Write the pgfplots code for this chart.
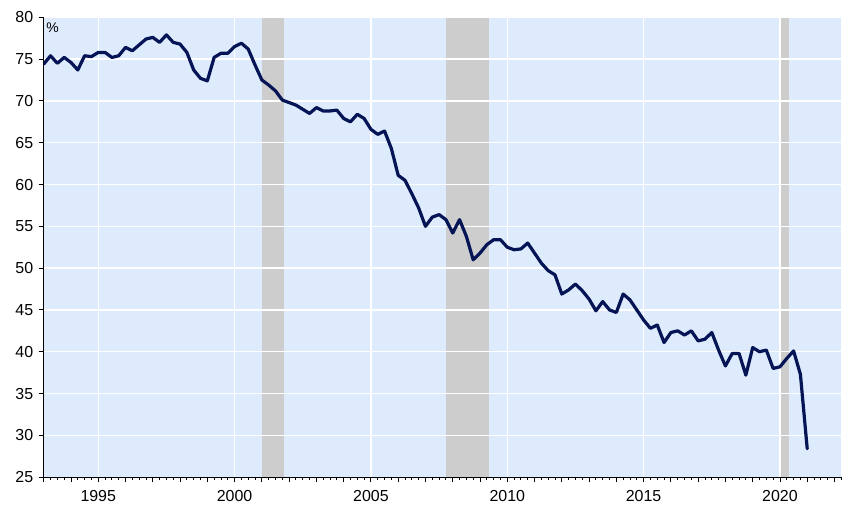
\documentclass[border=0pt]{standalone}
\usepackage{pgfplots}
\pgfplotsset{compat=1.18}
\usepackage{fontspec}
\setmainfont{Liberation Sans}
\definecolor{bgblue}{RGB}{222,235,252}
\definecolor{recgrey}{RGB}{205,205,205}
\definecolor{navy}{RGB}{5,20,85}
\begin{document}
\begin{tikzpicture}
\begin{axis}[
  name=ax,
  set layers=standard,
  scale only axis,
  width=797.3bp, height=459.7bp,
  xmin=1993, xmax=2022.25,
  ymin=25, ymax=80,
  axis x line*=bottom, axis y line*=left,
  axis line style={black, line width=1.2bp},
  xtick={1995,2000,2005,2010,2015,2020},
  xticklabels={1995,2000,2005,2010,2015,2020},
  extra x ticks={1993,1994,1996,1997,1998,1999,2001,2002,2003,2004,2006,2007,2008,2009,2011,2012,2013,2014,2016,2017,2018,2019,2021,2022},
  extra x tick labels={},
  extra x tick style={grid=none},
  minor xtick={1993,1993.25,...,2022.25},
  ytick={25,30,...,80},
  grid=major,
  major grid style={white, line width=1.3bp},
  tick align=outside,
  tick style={black, line width=0.9bp},
  major tick length=5bp,
  minor tick length=3bp,
  xtick pos=bottom, ytick pos=left,
  /pgf/number format/assume math mode=true,
  ticklabel style={font=\fontsize{16}{17}\selectfont},
  xticklabel style={yshift=-4.5bp},
  yticklabel style={xshift=-2bp},
  clip=true,
]
\addplot[fill=bgblue, draw=none, on layer=axis background] coordinates {(1993,25) (1993,80) (2022.25,80) (2022.25,25)} -- cycle;
\addplot[fill=recgrey, draw=none, on layer=axis background] coordinates {(2001.0,25) (2001.0,80) (2001.83,80) (2001.83,25)} -- cycle;
\addplot[fill=recgrey, draw=none, on layer=axis background] coordinates {(2007.75,25) (2007.75,80) (2009.33,80) (2009.33,25)} -- cycle;
\addplot[fill=recgrey, draw=none, on layer=axis background] coordinates {(2020.04,25) (2020.04,80) (2020.33,80) (2020.33,25)} -- cycle;
\addplot[navy, line width=3.2bp, line join=round, line cap=round, mark=none] table {
x y
1993.00 74.4
1993.25 75.4
1993.50 74.5
1993.75 75.2
1994.00 74.6
1994.25 73.7
1994.50 75.4
1994.75 75.3
1995.00 75.8
1995.25 75.8
1995.50 75.2
1995.75 75.4
1996.00 76.4
1996.25 76.0
1996.50 76.7
1996.75 77.4
1997.00 77.6
1997.25 77.0
1997.50 77.9
1997.75 77.0
1998.00 76.8
1998.25 75.8
1998.50 73.7
1998.75 72.7
1999.00 72.4
1999.25 75.2
1999.50 75.7
1999.75 75.7
2000.00 76.5
2000.25 76.9
2000.50 76.2
2000.75 74.3
2001.00 72.5
2001.25 71.9
2001.50 71.2
2001.75 70.1
2002.00 69.8
2002.25 69.5
2002.50 69.0
2002.75 68.5
2003.00 69.2
2003.25 68.8
2003.50 68.8
2003.75 68.9
2004.00 67.9
2004.25 67.5
2004.50 68.4
2004.75 67.9
2005.00 66.6
2005.25 66.0
2005.50 66.4
2005.75 64.3
2006.00 61.1
2006.25 60.5
2006.50 58.9
2006.75 57.2
2007.00 55.0
2007.25 56.1
2007.50 56.4
2007.75 55.8
2008.00 54.2
2008.25 55.8
2008.50 53.8
2008.75 51.0
2009.00 51.8
2009.25 52.8
2009.50 53.4
2009.75 53.4
2010.00 52.5
2010.25 52.2
2010.50 52.3
2010.75 53.0
2011.00 51.8
2011.25 50.6
2011.50 49.7
2011.75 49.2
2012.00 46.9
2012.25 47.4
2012.50 48.1
2012.75 47.3
2013.00 46.3
2013.25 44.9
2013.50 46.0
2013.75 45.0
2014.00 44.7
2014.25 46.9
2014.50 46.2
2014.75 45.0
2015.00 43.8
2015.25 42.8
2015.50 43.2
2015.75 41.1
2016.00 42.3
2016.25 42.5
2016.50 42.0
2016.75 42.5
2017.00 41.3
2017.25 41.5
2017.50 42.3
2017.75 40.2
2018.00 38.3
2018.25 39.8
2018.50 39.8
2018.75 37.2
2019.00 40.5
2019.25 40.0
2019.50 40.2
2019.75 38.0
2020.00 38.2
2020.25 39.2
2020.50 40.1
2020.75 37.3
2021.00 28.4
};
\node[anchor=north west, inner sep=0pt, font=\fontsize{14}{14}\selectfont] at (rel axis cs:0,1) [xshift=2.5bp, yshift=-5bp] {\%};
\end{axis}
\pgfresetboundingbox
\path[use as bounding box] ([shift={(-43.7bp,-27bp)}]ax.south west) rectangle ([shift={(6.7bp,17.3bp)}]ax.north east);
\end{tikzpicture}
\end{document}
